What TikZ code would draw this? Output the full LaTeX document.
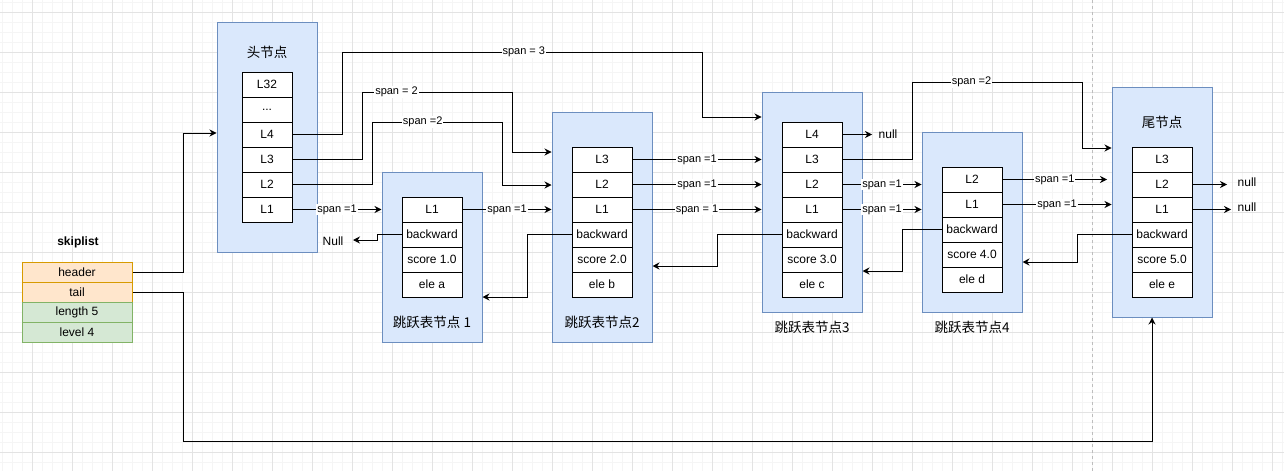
\documentclass[tikz,border=0pt]{standalone}
\usepackage{fontspec}
\setmainfont{Liberation Sans}
\newfontfamily\cjkf{Noto Sans CJK SC}
\usetikzlibrary{arrows.meta}
\definecolor{outerfill}{HTML}{DAE8FC}
\definecolor{outerline}{HTML}{6C8EBF}
\definecolor{orfill}{HTML}{FFE6CC}
\definecolor{orline}{HTML}{D79B00}
\definecolor{grfill}{HTML}{D5E8D4}
\definecolor{grline}{HTML}{82B366}
\definecolor{gridminor}{HTML}{F5F5F5}
\definecolor{gridmajor}{HTML}{E3E3E3}
\definecolor{dashgray}{HTML}{BDBDBD}
\newcommand\fcell{\fontsize{12pt}{14pt}\selectfont}
\newcommand\fspan{\fontsize{11pt}{13pt}\selectfont}
\tikzset{
 cell/.style={draw=black, fill=white, line width=1pt, minimum width=60pt, minimum height=25pt, inner sep=0pt, font=\fcell},
 hcell/.style={cell, minimum width=50pt},
 outerbox/.style={draw=outerline, fill=outerfill, line width=1pt, inner sep=0pt},
 ttl/.style={font=\cjkf\fontsize{13.5pt}{16pt}\selectfont, inner sep=0pt},
 lbl/.style={fill=white, inner sep=1pt, font=\fspan},
 arr/.style={line width=1pt, -{Stealth[length=7pt,width=7pt]}},
 sl/.style={minimum width=110pt, minimum height=20pt, line width=1pt, inner sep=0pt, font=\fcell},
 slo/.style={sl, draw=orline, fill=orfill},
 slg/.style={sl, draw=grline, fill=grfill},
 plain/.style={inner sep=0pt, font=\fcell},
 gminor/.style={draw=gridminor, line width=1pt},
 gmajor/.style={draw=gridmajor, line width=1pt},
}
\begin{document}
\begin{tikzpicture}[x=1pt,y=-1pt]
\useasboundingbox (0,0) rectangle (1284,471);
\fill[white] (0,0) rectangle (1284,471);
% grid
\foreach \g in {2,12,...,1282} \draw[gminor] (\g,0) -- (\g,471);
\foreach \g in {2,12,...,470} \draw[gminor] (0,\g) -- (1284,\g);
\foreach \g in {32,72,...,1282} \draw[gmajor] (\g,0) -- (\g,471);
\foreach \g in {12,52,...,470} \draw[gmajor] (0,\g) -- (1284,\g);
\draw[dashgray, line width=1pt, dash pattern=on 3pt off 3pt] (1092,0) -- (1092,471);

% skiplist struct
\node[plain, font=\fcell\bfseries] (sltitle) at (78,242) {skiplist};
\node[slo] (hdr) at (77,272) {header};
\node[slo] (tl) at (77,292) {tail};
\node[slg] (len) at (77,312) {length 5};
\node[slg] (lev) at (77,332) {level 4};

% head node
\node[outerbox, minimum width=100pt, minimum height=230pt] (head) at (267,137) {};
\node[ttl] (headt) at (267,52) {头节点};
\node[hcell] (h32) at (267,84.5) {L32};
\node[hcell] (hdots) at (267,109.5) {...};
\node[hcell] (h4) at (267,134.5) {L4};
\node[hcell] (h3) at (267,159.5) {L3};
\node[hcell] (h2) at (267,184.5) {L2};
\node[hcell] (h1) at (267,209.5) {L1};

% node 1
\node[outerbox, minimum width=100pt, minimum height=170pt] (n1) at (432,257) {};
\node[cell] (n1l1) at (432,209.5) {L1};
\node[cell] (n1bw) at (432,234.5) {backward};
\node[cell] (n1sc) at (432,259.5) {score 1.0};
\node[cell] (n1el) at (432,284.5) {ele a};
\node[ttl] (n1t) at (432,322) {跳跃表节点 1};

% node 2
\node[outerbox, minimum width=100pt, minimum height=230pt] (n2) at (602,227) {};
\node[cell] (n2l3) at (602,159.5) {L3};
\node[cell] (n2l2) at (602,184.5) {L2};
\node[cell] (n2l1) at (602,209.5) {L1};
\node[cell] (n2bw) at (602,234.5) {backward};
\node[cell] (n2sc) at (602,259.5) {score 2.0};
\node[cell] (n2el) at (602,284.5) {ele b};
\node[ttl] (n2t) at (602,322) {跳跃表节点2};

% node 3
\node[outerbox, minimum width=100pt, minimum height=220pt] (n3) at (812,202) {};
\node[cell] (n3l4) at (812,134.5) {L4};
\node[cell] (n3l3) at (812,159.5) {L3};
\node[cell] (n3l2) at (812,184.5) {L2};
\node[cell] (n3l1) at (812,209.5) {L1};
\node[cell] (n3bw) at (812,234.5) {backward};
\node[cell] (n3sc) at (812,259.5) {score 3.0};
\node[cell] (n3el) at (812,284.5) {ele c};
\node[ttl] (n3t) at (812,327) {跳跃表节点3};

% node 4
\node[outerbox, minimum width=100pt, minimum height=180pt] (n4) at (972,222) {};
\node[cell] (n4l2) at (972,179.5) {L2};
\node[cell] (n4l1) at (972,204.5) {L1};
\node[cell] (n4bw) at (972,229.5) {backward};
\node[cell] (n4sc) at (972,254.5) {score 4.0};
\node[cell] (n4el) at (972,279.5) {ele d};
\node[ttl] (n4t) at (972,327) {跳跃表节点4};

% tail node
\node[outerbox, minimum width=100pt, minimum height=230pt] (tn) at (1162,202) {};
\node[ttl] (tnt) at (1162,122) {尾节点};
\node[cell] (tnl3) at (1162,159.5) {L3};
\node[cell] (tnl2) at (1162,184.5) {L2};
\node[cell] (tnl1) at (1162,209.5) {L1};
\node[cell] (tnbw) at (1162,234.5) {backward};
\node[cell] (tnsc) at (1162,259.5) {score 5.0};
\node[cell] (tnel) at (1162,284.5) {ele e};

% null texts and free ends
\node[plain] (nullA) at (333,241) {Null};
\coordinate (nullAend) at (353,240);
\node[plain] (nullB) at (888,134.5) {null};
\coordinate (nullBend) at (872,134.5);
\node[plain] (nullC) at (1247,182) {null};
\coordinate (nullCend) at (1227,184.5);
\node[plain] (nullD) at (1247,207) {null};
\coordinate (nullDend) at (1231,209.5);

% skiplist pointers
\draw[arr] (hdr.east) -- (183,272) |- (head.west |- 0,133);
\draw[arr] (tl.east) -- (183,292) -- (183,441) -| (tn.south -| 1152,0);

% head forward links
\draw[arr] (h4.east) -| (342,52) -- node[lbl, pos=0.505] (s1) {span = 3} (702,52) |- (n3.west |- 0,117);
\draw[arr] (h3.east) -| (362,92) -- node[lbl, pos=0.23] (s2) {span = 2} (512,92) |- (n2.west |- 0,152);
\draw[arr] (h2.east) -| (372,122) -- node[lbl, pos=0.39] (s3) {span =2} (502,122) |- (n2.west |- 0,185);
\draw[arr] (h1.east) -- node[lbl] (s4) {span =1} (h1.east -| n1.west);

% node1 / node2 forward
\draw[arr] (n1l1.east) -- node[lbl] (s5) {span =1} (n1l1.east -| n2.west);
\draw[arr] (n2l3.east) -- node[lbl] (s6) {span =1} (n2l3.east -| n3.west);
\draw[arr] (n2l2.east) -- node[lbl] (s7) {span =1} (n2l2.east -| n3.west);
\draw[arr] (n2l1.east) -- node[lbl] (s8) {span = 1} (n2l1.east -| n3.west);

% node3 forward
\draw[arr] (n3l4.east) -- (nullBend);
\draw[arr] (n3l3.east) -| (912,82) -- node[lbl, pos=0.35] (s9) {span =2} (1082,82) |- (tn.west |- 0,148);
\draw[arr] (n3l2.east) -- node[lbl] (s10) {span =1} (n3l2.east -| n4.west);
\draw[arr] (n3l1.east) -- node[lbl] (s11) {span =1} (n3l1.east -| n4.west);

% node4 forward
\draw[arr] (n4l2.east) -- node[lbl] (s12) {span =1} (n4l2.east -| 1107,0);
\draw[arr] (n4l1.east) -- node[lbl] (s13) {span =1} (n4l1.east -| tn.west);

% tail forward
\draw[arr] (tnl2.east) -- (nullCend);
\draw[arr] (tnl1.east) -- (nullDend);

% backward links
\draw[arr] (n1bw.west) -- (377,234.5) -- (377,240) -- (nullAend);
\draw[arr] (n2bw.west) -- (527,234.5) |- (n1.east |- 0,297);
\draw[arr] (n3bw.west) -- (717,234.5) |- (n2.east |- 0,266);
\draw[arr] (n4bw.west) -- (902,229.5) |- (n3.east |- 0,271);
\draw[arr] (tnbw.west) -- (1077,234.5) |- (n4.east |- 0,262);
\end{tikzpicture}
\end{document}
